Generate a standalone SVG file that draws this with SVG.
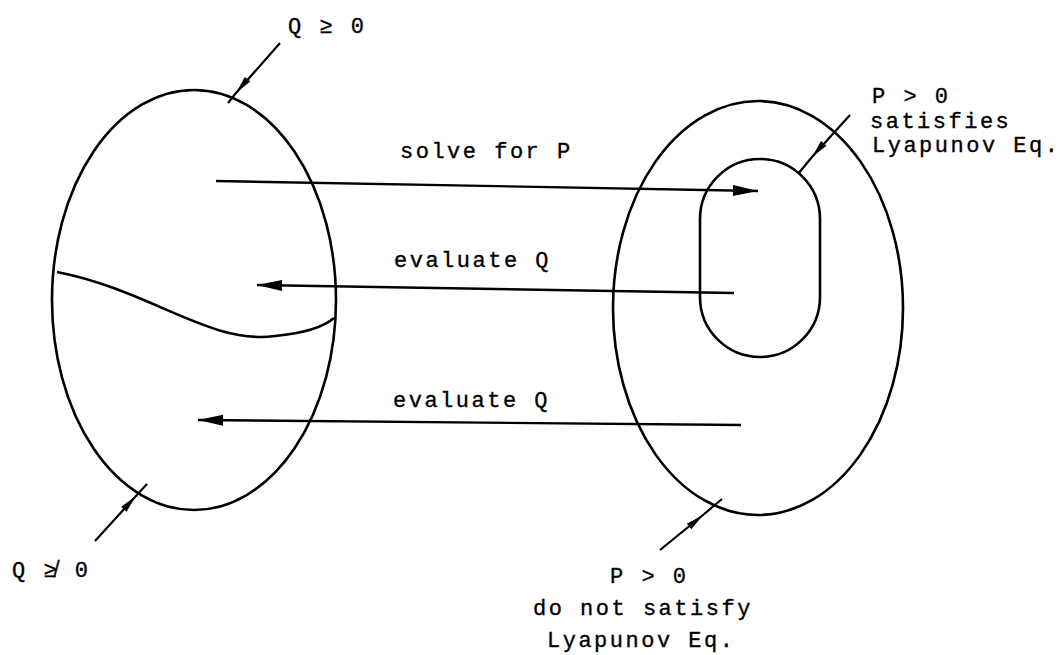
<svg xmlns="http://www.w3.org/2000/svg" width="1060" height="655" viewBox="0 0 1060 655">
<style>
.shape{fill:none;stroke:#000;stroke-width:2.6}
.conn{fill:none;stroke:#000;stroke-width:2.4}
.ptr{fill:none;stroke:#000;stroke-width:2.2}
text{font-family:"Liberation Mono","DejaVu Sans Mono",monospace;font-size:22px;letter-spacing:2.5px;fill:#000;stroke:#000;stroke-width:0.35}
</style>
<defs>
<marker id="ah" markerUnits="userSpaceOnUse" markerWidth="30" markerHeight="16" refX="0" refY="0" viewBox="-28 -8 30 16" orient="auto">
<path d="M0,0 L-25,-5.5 L-25,5.5 Z" fill="#000"/>
</marker>
<marker id="ph" markerUnits="userSpaceOnUse" markerWidth="22" markerHeight="10" refX="0" refY="0" viewBox="-20 -5 22 10" orient="auto">
<path d="M0,0 L-18,-3.6 L-18,3.6 Z" fill="#000"/>
</marker>
</defs>
<rect width="1060" height="655" fill="#fff"/>
<g id="setQ">
<ellipse class="shape" cx="194" cy="300" rx="142" ry="210"/>
<path class="shape" d="M57,272 C150,290 210,345 275,336 C305,333 325,326 334,318"/>
</g>
<g id="setP">
<ellipse class="shape" cx="758" cy="308" rx="145" ry="207"/>
</g>
<g id="setPsat">
<rect class="shape" x="700" y="159" width="120" height="198" rx="60" ry="60"/>
</g>
<g id="connectors">
<path class="conn" d="M216,181 L758,191" marker-end="url(#ah)"/>
<path class="conn" d="M734,293 L257,285" marker-end="url(#ah)"/>
<path class="conn" d="M741,425 L198,420" marker-end="url(#ah)"/>
<path class="ptr" d="M280,43 L236,93 L228,103" marker-mid="url(#ph)"/>
<path class="ptr" d="M95,541 L136,496 L147,484" marker-mid="url(#ph)"/>
<path class="ptr" d="M850,115 L812,157 L798,174" marker-mid="url(#ph)"/>
<path class="ptr" d="M660,550 L703,515 L722,499" marker-mid="url(#ph)"/>
</g>
<g id="labels">
<text x="288" y="33">Q ≥ 0</text>
<text x="12" y="577">Q ≱ 0</text>
<text x="872" y="103">P &gt; 0</text>
<text x="870" y="128">satisfies</text>
<text x="872" y="152">Lyapunov Eq.</text>
<text x="610" y="583">P &gt; 0</text>
<text x="533" y="615">do not satisfy</text>
<text x="547" y="647">Lyapunov Eq.</text>
<text x="400" y="158">solve for P</text>
<text x="394" y="267">evaluate Q</text>
<text x="393" y="407">evaluate Q</text>
</g>
</svg>
